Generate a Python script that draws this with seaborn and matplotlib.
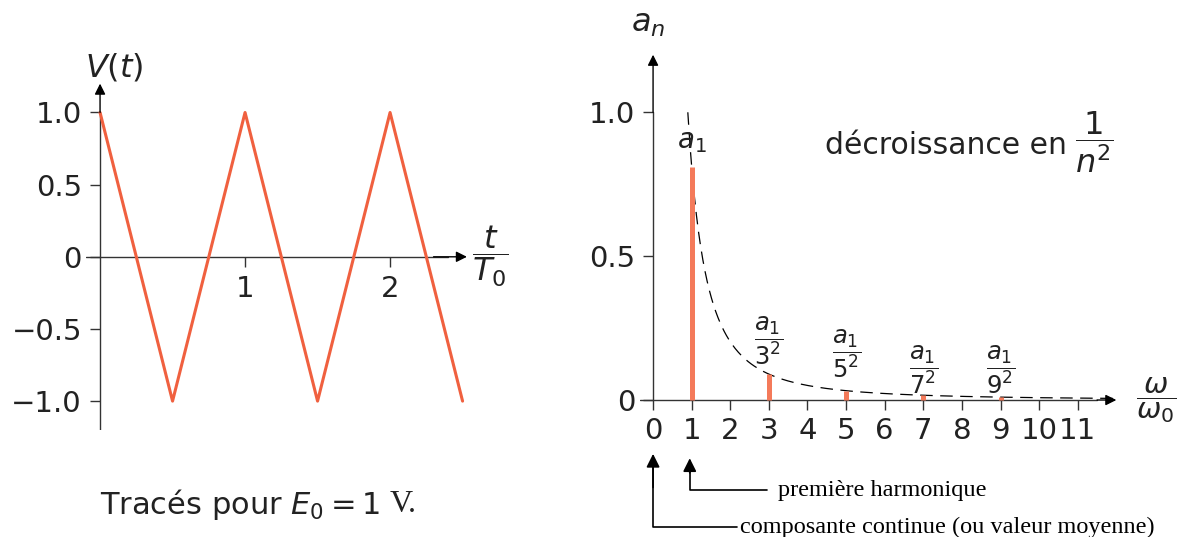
import numpy as np
import pandas as pd
import matplotlib
matplotlib.use("Agg")
import matplotlib.pyplot as plt
import seaborn as sns

# --- Triangle signal V(t), time in units of T0 ---
t_over_T0 = [0.0, 0.5, 1.0, 1.5, 2.0, 2.5]
v_t = [1.0, -1.0, 1.0, -1.0, 1.0, -1.0]

left_xticks = [1, 2]
left_xticklabels = ["1", "2"]
left_yticks = [-1.0, -0.5, 0.0, 0.5, 1.0]
left_yticklabels = ["\u22121.0", "\u22120.5", "0", "0.5", "1.0"]

# --- Fourier spectrum: odd harmonics, a_n = a_1 / n^2 ---
a1 = 0.81
harmonics = [1, 3, 5, 7, 9]
amplitudes = [0.81, 0.09, 0.0324, 0.0165, 0.01]
harmonic_labels = [r"$a_1$", r"$\dfrac{a_1}{3^2}$", r"$\dfrac{a_1}{5^2}$",
                   r"$\dfrac{a_1}{7^2}$", r"$\dfrac{a_1}{9^2}$"]
label_heights = [0.90, 0.205, 0.16, 0.105, 0.105]

right_xticks = list(range(12))
right_xticklabels = [str(k) for k in right_xticks]
right_yticks = [0.0, 0.5, 1.0]
right_yticklabels = ["0", "0.5", "1.0"]

# 1/omega^2 envelope through a_1
omega_env = np.linspace(0.9, 12.0, 400)
env = a1 / omega_env ** 2

wave_df = pd.DataFrame({"t": t_over_T0, "V": v_t})
env_df = pd.DataFrame({"omega": omega_env, "a": env})

sns.set_theme(style="white")
plt.rcParams["font.family"] = ["DejaVu Sans"]
plt.rcParams["mathtext.fontset"] = "dejavusans"

WAVE = "#F0603F"
STEM = "#F47A5A"
AXC = "#333333"
TXT = "#222222"

fig = plt.figure(figsize=(11.8, 5.37), dpi=100)
fig.patch.set_facecolor("white")


def arrow(ax, x0, y0, x1, y1, transform=None, lw=1.0, ms=16):
    kw = {}
    if transform is not None:
        kw = dict(xycoords=transform, textcoords=transform)
    ax.annotate("", xy=(x1, y1), xytext=(x0, y0), annotation_clip=False,
                arrowprops=dict(arrowstyle="-|>", color="black", lw=lw,
                                shrinkA=0, shrinkB=0, mutation_scale=ms), **kw)


def style_axes(ax):
    for s in ax.spines.values():
        s.set_visible(False)
    ax.spines["left"].set_position(("data", 0))
    ax.spines["bottom"].set_position(("data", 0))
    ax.set_facecolor("none")
    ax.grid(False)
    ax.tick_params(axis="both", which="major", labelsize=21, colors=AXC,
                   length=7, width=1.0, direction="out", pad=6,
                   labelcolor=TXT, bottom=True, left=True,
                   top=False, right=False)


# ---------------- left panel: V(t) ----------------
axL = fig.add_axes([0.0725, 0.1993, 0.3318, 0.6584])
style_axes(axL)
axL.set_xlim(-0.1, 2.6)
axL.set_ylim(-1.2, 1.25)
sns.lineplot(data=wave_df, x="t", y="V", ax=axL, color=WAVE, lw=2.2,
             estimator=None, sort=False)
axL.set_xlabel("")
axL.set_ylabel("")
axL.set_xticks(left_xticks)
axL.set_xticklabels(left_xticklabels)
axL.set_yticks(left_yticks)
axL.set_yticklabels(left_yticklabels)
axL.plot([-0.1, 2.4], [0, 0], color=AXC, lw=1.0, zorder=1)
arrow(axL, 2.3, 0, 2.53, 0)
axL.plot([0, 0], [-1.2, 1.0], color=AXC, lw=1.0, zorder=1)
arrow(axL, 0, 1.0, 0, 1.2)
axL.text(0.1, 1.31, r"$V(t)$", fontsize=23, ha="center", va="center",
         color=TXT)
axL.text(2.69, 0.0, r"$\dfrac{t}{T_0}$", fontsize=23, ha="center",
         va="center", color=TXT)
fig.text(0.322, 0.06, r"Tracés pour $E_0 = 1$", fontsize=22,
         ha="right", va="center", color=TXT)
fig.text(0.3305, 0.06, "V.", fontsize=23, family="Liberation Serif",
         ha="left", va="center", color=TXT)

# ---------------- right panel: spectrum ----------------
axR = fig.add_axes([0.542, 0.2283, 0.4106, 0.6805])
style_axes(axR)
axR.set_xlim(-0.35, 12.2)
axR.set_ylim(-0.05, 1.22)
sns.lineplot(data=env_df, x="omega", y="a", ax=axR, color="black", lw=0.9,
             estimator=None, sort=False)
axR.lines[-1].set_dashes([10, 6])
axR.vlines(harmonics, 0, amplitudes, colors=STEM, lw=3.6, zorder=3)
axR.set_xlabel("")
axR.set_ylabel("")
axR.set_xticks(right_xticks)
axR.set_xticklabels(right_xticklabels)
axR.set_yticks(right_yticks)
axR.set_yticklabels(right_yticklabels)
axR.tick_params(axis="x", pad=5)
axR.plot([-0.35, 11.5], [0, 0], color=AXC, lw=1.0, zorder=1)
arrow(axR, 11.5, 0, 12.0, 0)
axR.plot([0, 0], [0, 1.0], color=AXC, lw=1.0, zorder=1)
arrow(axR, 0, 1.0, 0, 1.2)

for n, lab, h in zip(harmonics, harmonic_labels, label_heights):
    axR.text(n, h, lab, fontsize=20 if n == 1 else 17.5, ha="center",
             va="center", color=TXT, zorder=4)

axR.text(-0.13, 1.31, r"$a_n$", fontsize=23, ha="center", va="center",
         color=TXT)
axR.text(13.03, 0.0, r"$\dfrac{\omega}{\omega_0}$", fontsize=21,
         ha="center", va="center", color=TXT)
axR.text(4.45, 0.885, "décroissance en", fontsize=21.5,
         ha="left", va="center", color=TXT)
axR.text(11.42, 0.895, r"$\dfrac{1}{n^2}$", fontsize=23,
         ha="center", va="center", color=TXT)

# pointers to the DC component and the first harmonic
xt = axR.get_xaxis_transform()
axR.plot([0, 0, 2.18], [-0.12, -0.308, -0.308], color="black", lw=1.2,
         transform=xt, clip_on=False)
arrow(axR, 0, -0.2, 0, -0.108, transform=xt, lw=1.2, ms=20)
axR.text(2.25, -0.308, "composante continue (ou valeur moyenne)",
         transform=xt, fontsize=17.5, family="Liberation Serif",
         ha="left", va="center", color="black")
axR.plot([0.95, 0.95, 2.95], [-0.13, -0.207, -0.207], color="black", lw=1.2,
         transform=xt, clip_on=False)
arrow(axR, 0.95, -0.16, 0.95, -0.12, transform=xt, lw=1.2, ms=20)
axR.text(3.24, -0.207, "première harmonique", transform=xt, fontsize=17.5,
         family="Liberation Serif", ha="left", va="center", color="black")

fig.savefig("out.png", dpi=100, facecolor="white")
